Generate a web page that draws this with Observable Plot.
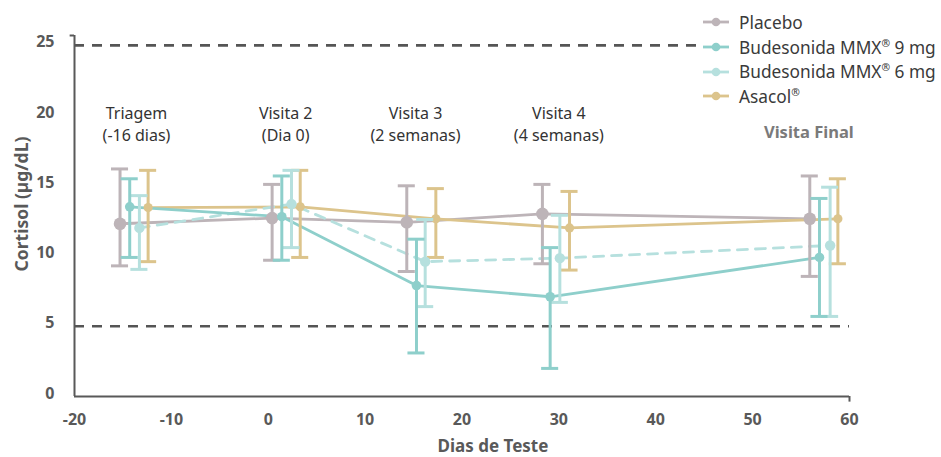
<!DOCTYPE html>
<html>
<head>
<meta charset="utf-8">
<script src="https://cdn.jsdelivr.net/npm/d3@7"></script>
<script src="https://cdn.jsdelivr.net/npm/@observablehq/plot@0.6"></script>
<style>
  html, body { margin: 0; padding: 0; background: #fff; }
  #wrap { position: relative; width: 941px; height: 457px; font-family: "Noto Sans", Lato, sans-serif; }
  #legend { position: absolute; left: 696px; top: 8px; background: #fff; padding: 2px 0 2px 6px; }
  .row { display: flex; align-items: center; height: 24.7px; font-size: 17.3px; color: #3a3a3a; white-space: nowrap; }
  .row svg { margin-right: 9px; }
  sup { font-size: 0.6em; }
</style>
</head>
<body>
<div id="wrap">
  <div id="chart"></div>
  <div id="legend"></div>
</div>
<script>
// ---- data ----
const seriesNames = ["Placebo", "Budesonida MMX® 9 mg", "Budesonida MMX® 6 mg", "Asacol®"];
const seriesColors = ["#bdb4b8", "#8ecfcb", "#b6e0de", "#dcc48c"];
const visitNames = ["Triagem", "Visita 2", "Visita 3", "Visita 4", "Visita Final"];

const placeboDay  = [-15.3, 0.4, 14.3, 28.3, 55.9];
const placeboMean = [12.3, 12.7, 12.4, 13.0, 12.65];
const placeboLow  = [9.3, 9.7, 8.9, 9.45, 8.55];
const placeboHigh = [16.2, 15.1, 15.0, 15.1, 15.7];

const bud9Day  = [-14.3, 1.4, 15.3, 29.1, 56.9];
const bud9Mean = [13.5, 12.8, 7.9, 7.1, 9.9];
const bud9Low  = [9.9, 9.7, 3.1, 2.0, 5.7];
const bud9High = [15.5, 15.7, 11.2, 10.6, 14.1];

const bud6Day  = [-13.3, 2.4, 16.2, 30.1, 58.0];
const bud6Mean = [12.0, 13.7, 9.6, 9.85, 10.75];
const bud6Low  = [9.05, 10.6, 6.4, 6.7, 5.7];
const bud6High = [14.3, 16.1, 12.6, 12.9, 14.9];

const asacolDay  = [-12.4, 3.3, 17.3, 31.1, 58.8];
const asacolMean = [13.45, 13.5, 12.65, 12.0, 12.65];
const asacolLow  = [9.6, 9.9, 9.9, 9.0, 9.45];
const asacolHigh = [16.1, 16.1, 14.8, 14.6, 15.5];

const xTicks = [-20, -10, 0, 10, 20, 30, 40, 50, 60];
const yTicks = [0, 5, 10, 15, 20, 25];
const refLines = [5, 25];

const visitTitles = ["Triagem", "Visita 2", "Visita 3", "Visita 4"];
const visitSubtitles = ["(-16 dias)", "(Dia 0)", "(2 semanas)", "(4 semanas)"];
const visitLabelX = [-13.6, 1.8, 15.2, 30.0];
const finalLabel = "Visita Final";
const finalLabelX = 55.8;

// ---- build table ----
const sets = [
  [placeboDay, placeboMean, placeboLow, placeboHigh],
  [bud9Day, bud9Mean, bud9Low, bud9High],
  [bud6Day, bud6Mean, bud6Low, bud6High],
  [asacolDay, asacolMean, asacolLow, asacolHigh]
];
const rows = [];
sets.forEach((s, si) => {
  s[0].forEach((d, i) => rows.push({
    series: seriesNames[si], visit: visitNames[i], day: d,
    mean: s[1][i], lo: s[2][i], hi: s[3][i]
  }));
});
const bySeries = name => rows.filter(r => r.series === name);
const dotR = [6.3, 4.8, 5.2, 4.6];
const capHalf = 0.88;

const axisColor = "#595959";
const drawOrder = [0, 3, 2, 1];

const marks = [
  // reference dashed lines
  Plot.ruleY(refLines, {x1: -20, x2: 60, stroke: "#555", strokeWidth: 2.6, strokeDasharray: "10,8"}),
  // axes lines
  Plot.ruleY([0], {x1: -20, x2: 60, stroke: axisColor, strokeWidth: 2}),
  Plot.ruleX([-20], {y1: 0, y2: 25.7, stroke: axisColor, strokeWidth: 2}),
  Plot.ruleY([25.7], {x1: -20.45, x2: -20, stroke: axisColor, strokeWidth: 2}),
  Plot.ruleX([60], {y1: 0, y2: -0.4, stroke: axisColor, strokeWidth: 2}),
  // tick labels
  Plot.text(xTicks, {x: d => d, y: 0, dy: 23, text: d => String(d), fontSize: 16, fontWeight: "bold", fill: axisColor}),
  Plot.text(yTicks, {x: -20, y: d => d, dx: -20, dy: -3, text: d => String(d), textAnchor: "end", fontSize: 16, fontWeight: "bold", fill: axisColor}),
  // axis titles
  Plot.text(["Cortisol (µg/dL)"], {frameAnchor: "left", textAnchor: "middle", lineAnchor: "middle", rotate: -90, dx: -52, dy: -12, fontSize: 17.5, fontWeight: "bold", fill: axisColor}),
  Plot.text(["Dias de Teste"], {frameAnchor: "bottom", textAnchor: "middle", lineAnchor: "middle", dx: 31, dy: 50, fontSize: 17, fontWeight: "bold", fill: axisColor}),
  // visit labels
  Plot.text(visitTitles, {x: (d, i) => visitLabelX[i], y: 19.36, dy: -11, text: d => d, fontSize: 16, fill: "#333"}),
  Plot.text(visitSubtitles, {x: (d, i) => visitLabelX[i], y: 19.36, dy: 11, text: d => d, fontSize: 16, fill: "#333"}),
  Plot.text([finalLabel], {x: finalLabelX, y: 18.8, fontSize: 16.5, fontWeight: "bold", fill: "#7a7a7a"})
];

// lines
for (const si of drawOrder) {
  marks.push(Plot.line(bySeries(seriesNames[si]), {
    x: "day", y: "mean", stroke: seriesColors[si], strokeWidth: 2.8,
    strokeDasharray: si === 2 ? "10,8" : null
  }));
}
// error bars and dots
for (const si of drawOrder) {
  const data = bySeries(seriesNames[si]);
  const c = seriesColors[si];
  marks.push(
    Plot.ruleX(data, {x: "day", y1: "lo", y2: "hi", stroke: c, strokeWidth: 3}),
    Plot.ruleY(data, {y: "hi", x1: d => d.day - capHalf, x2: d => d.day + capHalf, stroke: c, strokeWidth: 3}),
    Plot.ruleY(data, {y: "lo", x1: d => d.day - capHalf, x2: d => d.day + capHalf, stroke: c, strokeWidth: 3}),
    Plot.dot(data, {x: "day", y: "mean", r: dotR[si], fill: c, stroke: null})
  );
}

const chart = Plot.plot({
  width: 941,
  height: 457,
  marginLeft: 74,
  marginRight: 92,
  marginTop: 35,
  marginBottom: 61,
  x: {domain: [-20, 60], axis: null},
  y: {domain: [0, 25.7], axis: null},
  style: {fontFamily: "'Noto Sans', Lato, sans-serif", background: "#fff"},
  marks
});
document.getElementById("chart").appendChild(chart);

// legend
const legend = document.getElementById("legend");
seriesNames.forEach((name, i) => {
  const row = document.createElement("div");
  row.className = "row";
  const svg = d3.create("svg").attr("width", 28).attr("height", 12);
  svg.append("line").attr("x1", 1).attr("x2", 27).attr("y1", 6).attr("y2", 6)
    .attr("stroke", seriesColors[i]).attr("stroke-width", 2.8);
  svg.append("circle").attr("cx", 14).attr("cy", 6).attr("r", 4.3).attr("fill", seriesColors[i]);
  row.appendChild(svg.node());
  const span = document.createElement("span");
  span.innerHTML = name.replace("®", "<sup>®</sup>");
  row.appendChild(span);
  legend.appendChild(row);
});
</script>
</body>
</html>
